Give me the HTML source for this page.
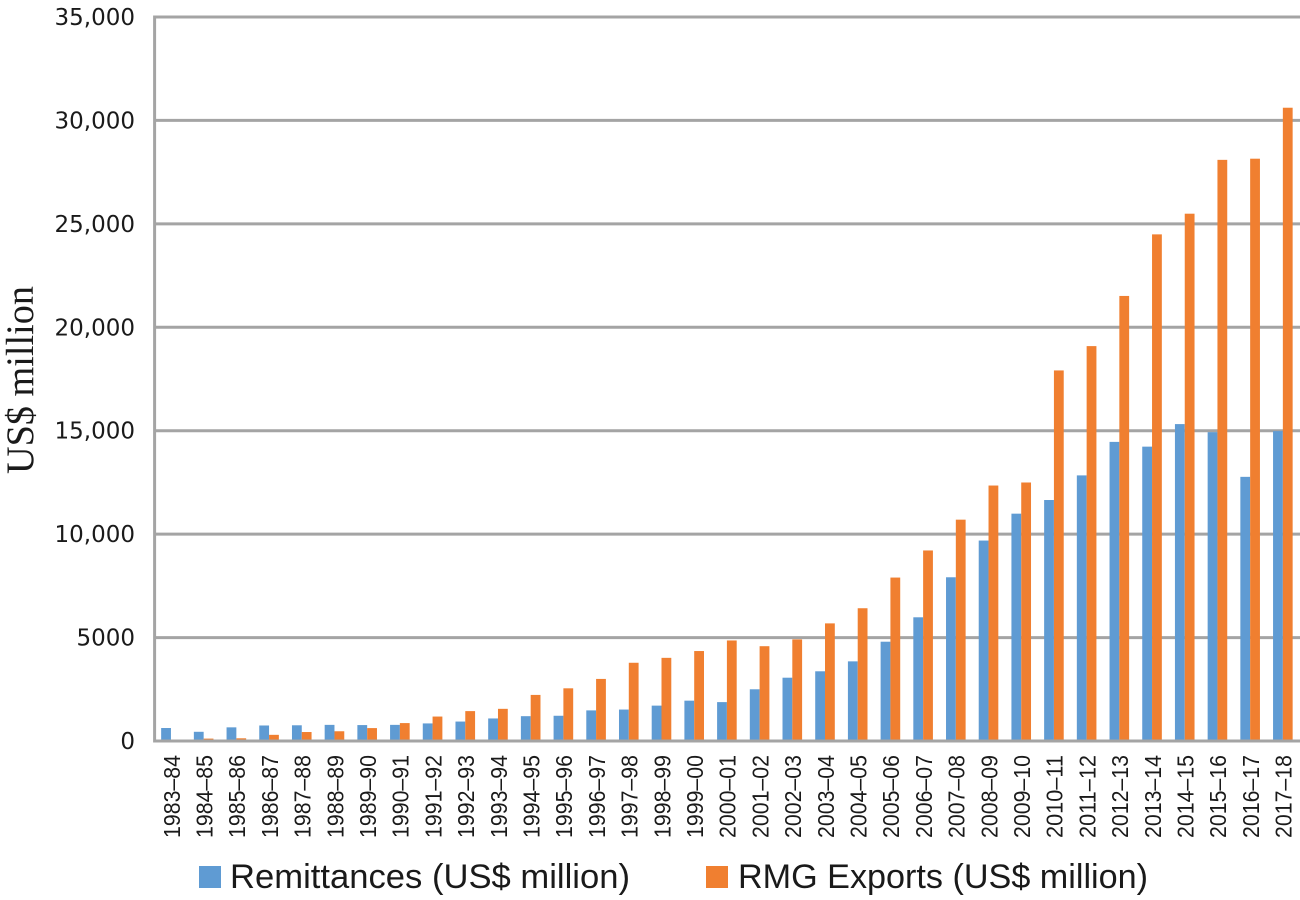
<!DOCTYPE html>
<html lang="en">
<head>
<meta charset="utf-8">
<title>Remittances and RMG Exports</title>
<style>
html,body{margin:0;padding:0;background:#fff;}
svg{display:block;}
text{fill:#1a1a1a;font-family:"Liberation Sans",sans-serif;}
</style>
</head>
<body>
<svg id="chart" xmlns="http://www.w3.org/2000/svg" width="1300" height="900" viewBox="0 0 1300 900">
  <rect x="0" y="0" width="1300" height="900" fill="#ffffff"/>
  <g id="grid"></g>
  <g id="yticks"></g>
  <g id="bars"></g>
  <g id="axes"></g>
  <g id="xticks"></g>
  <text transform="translate(33,380) rotate(-90)" text-anchor="middle" textLength="188" lengthAdjust="spacingAndGlyphs" style="font-family:'Liberation Serif',serif;font-size:39px;">US$ million</text>
  <g>
    <rect x="199" y="866" width="22" height="22" fill="#5f9bd3"/>
    <text x="230" y="888" textLength="400" lengthAdjust="spacingAndGlyphs" style="font-size:34px;">Remittances (US$ million)</text>
    <rect x="706" y="866" width="22" height="22" fill="#f07f30"/>
    <text x="738" y="888" textLength="410" lengthAdjust="spacingAndGlyphs" style="font-size:34px;">RMG Exports (US$ million)</text>
  </g>
</svg>
<script>
const categories = ["1983–84","1984–85","1985–86","1986–87","1987–88","1988–89","1989–90","1990–91","1991–92","1992–93","1993–94","1994–95","1995–96","1996–97","1997–98","1998–99","1999–00","2000–01","2001–02","2002–03","2003–04","2004–05","2005–06","2006–07","2007–08","2008–09","2009–10","2010–11","2011–12","2012–13","2013–14","2014–15","2015–16","2016–17","2017–18"];
const remittances = [628,445,660,750,760,780,770,780,850,940,1090,1200,1220,1480,1520,1710,1950,1880,2500,3060,3370,3850,4800,5980,7915,9690,10990,11650,12840,14460,14230,15320,14930,12770,14980];
const rmgExports = [0,116,131,298,434,471,624,866,1182,1445,1555,2228,2547,3001,3782,4020,4349,4860,4583,4912,5686,6418,7901,9211,10700,12350,12497,17914,19090,21515,24492,25491,28094,28150,30614];
const yTickValues = [0,5000,10000,15000,20000,25000,30000,35000];
const yTickLabels = ["0","5000","10,000","15,000","20,000","25,000","30,000","35,000"];

const NS = "http://www.w3.org/2000/svg";
const plotLeft = 154.6, plotRight = 1299.2, plotBottom = 741, plotTop = 17;
const yMax = 35000;
const step = (plotRight - plotLeft) / categories.length;
const barW = 9.8;
function yScale(v){ return plotBottom - (v / yMax) * (plotBottom - plotTop); }
function xCenter(i){ return plotLeft + step * (i + 0.5); }
function make(tag, attrs, parent){
  const el = document.createElementNS(NS, tag);
  for (const k in attrs) el.setAttribute(k, attrs[k]);
  parent.appendChild(el);
  return el;
}

const gridG = document.getElementById('grid');
const yG = document.getElementById('yticks');
yTickValues.forEach((v, i) => {
  if (v > 0) {
    const line = make('line', {x1: plotLeft, x2: 1300, y1: yScale(v), y2: yScale(v), stroke: '#a4a4a4', 'stroke-width': 3}, gridG);
    
    
  }
  const t = make('text', {x: 135, y: yScale(v) + 8, 'text-anchor': 'end', style: "font-family:'DejaVu Sans',sans-serif;font-size:23px;"}, yG);
  
  
  t.textContent = yTickLabels[i];
});

const barG = document.getElementById('bars');
categories.forEach((c, i) => {
  const cx = xCenter(i);
  const y0 = yScale(0);
  const yA = yScale(remittances[i]);
  const a = make('rect', {x: cx - barW, y: yA, width: barW, height: y0 - yA, fill: '#5f9bd3'}, barG);
  
  
  const yB = yScale(rmgExports[i]);
  const b = make('rect', {x: cx, y: yB, width: barW, height: y0 - yB, fill: '#f07f30'}, barG);
  
  
});

const axesG = document.getElementById('axes');
const yAxis = make('line', {x1: plotLeft, x2: plotLeft, y1: plotTop - 1.5, y2: plotBottom + 1.5, stroke: '#a4a4a4', 'stroke-width': 3}, axesG);


const xAxis = make('line', {x1: plotLeft, x2: 1300, y1: plotBottom, y2: plotBottom, stroke: '#a4a4a4', 'stroke-width': 3}, axesG);



const xG = document.getElementById('xticks');
categories.forEach((c, i) => {
  const px = xCenter(i) + 8.8;
  const t = make('text', {transform: 'translate(' + px + ',838) rotate(-90)', textLength: 83, lengthAdjust: 'spacingAndGlyphs', style: 'font-size:23.5px;'}, xG);
  
  
  t.textContent = c;
});
</script>
</body>
</html>
